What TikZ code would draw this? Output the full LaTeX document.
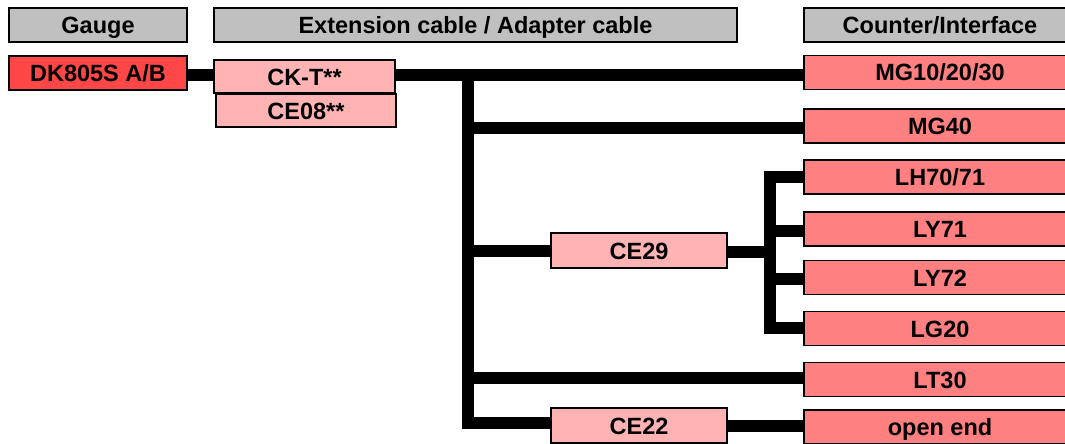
\documentclass[tikz,border=0pt]{standalone}
\usepackage{fontspec}
\setmainfont{Liberation Sans}
\definecolor{hdrgray}{HTML}{C0C0C0}
\definecolor{gaugered}{HTML}{FF4747}
\definecolor{cablepink}{HTML}{FFB3B3}
\definecolor{countred}{HTML}{FF8080}
\begin{document}
\begin{tikzpicture}[x=1pt,y=-1pt,
  box/.style={draw=black, line width=1.4pt, rectangle, inner sep=0pt, anchor=center,
    text height=17pt, text depth=0pt,
    font=\fontsize{23.5}{27}\selectfont\bfseries},
  hdr/.style={box, fill=hdrgray, minimum height=34pt},
  gauge/.style={box, fill=gaugered, minimum height=34pt},
  cable/.style={box, fill=cablepink, minimum height=34pt, minimum width=180pt},
  counter/.style={box, fill=countred, minimum height=34pt, minimum width=272pt},
  wire/.style={line width=12pt, line join=miter, line cap=butt}
]
\useasboundingbox (0,0) rectangle (1065,444);
% headers
\node[hdr, minimum width=178pt] (hG) at (98,25) {Gauge};
\node[hdr, minimum width=523pt] (hE) at (475.5,25) {Extension cable / Adapter cable};
\node[hdr, minimum width=272pt] (hC) at (940,25) {Counter/Interface};
% gauge
\node[gauge, minimum width=178pt] (dk) at (98,73) {DK805S A/B};
% cables
\node[cable, minimum width=181pt, minimum height=33pt] (ckt) at (304.5,76.5) {CK-T**};
\node[cable, minimum width=180pt, minimum height=33pt] (ce08) at (306,110.5) {CE08**};
\node[cable, minimum width=176pt, minimum height=35pt] (ce29) at (639,250.5) {CE29};
\node[cable, minimum width=176pt, minimum height=35pt] (ce22) at (639,425.5) {CE22};
% counters
\node[counter] (mg10) at (940,72.5) {MG10/20/30};
\node[counter] (mg40) at (940,126) {MG40};
\node[counter] (lh70) at (940,177) {LH70/71};
\node[counter] (ly71) at (940,229) {LY71};
\node[counter] (ly72) at (940,277.5) {LY72};
\node[counter] (lg20) at (940,328.5) {LG20};
\node[counter] (lt30) at (940,379.5) {LT30};
\node[counter] (open) at (940,427) {open end};
% junction coordinates
\coordinate (t0) at (468,75);
\coordinate (tbot) at (468,423);
\coordinate (s0) at (770,177);
\coordinate (sbot) at (770,328);
% wires
\draw[wire] (dk.east |- 0,75) -- (ckt.west |- 0,75);
\draw[wire] (ckt.east |- 0,75) -- (mg10.west |- 0,75);
\draw[wire] (t0) -- (tbot) -- (ce22.west |- tbot);
\draw[wire] (468,128) -- (mg40.west |- 0,128);
\draw[wire] (468,251) -- (ce29.west |- 0,251);
\draw[wire] (468,378) -- (lt30.west |- 0,378);
\draw[wire] (ce29.east |- 0,252) -- (770,252);
\draw[wire] (lh70.west |- s0) -- (s0) -- (sbot) -- (lg20.west |- sbot);
\draw[wire] (770,231) -- (ly71.west |- 0,231);
\draw[wire] (770,279) -- (ly72.west |- 0,279);
\draw[wire] (ce22.east |- 0,426) -- (open.west |- 0,426);
\end{tikzpicture}
\end{document}
